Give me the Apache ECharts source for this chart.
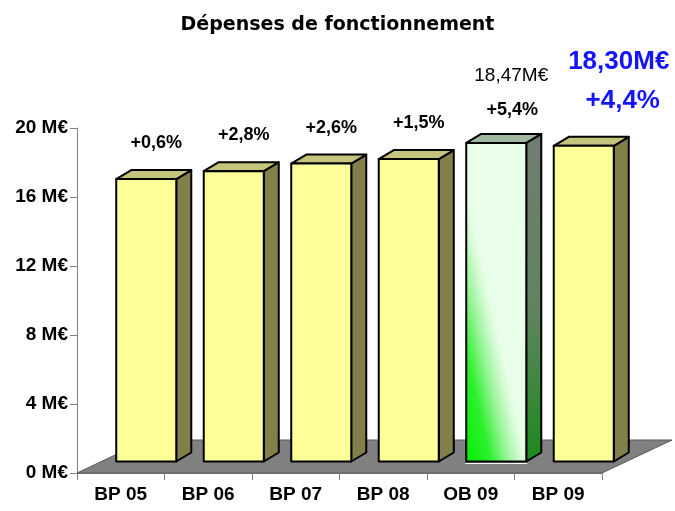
<!DOCTYPE html>
<html>
<head>
<meta charset="utf-8">
<script src="https://cdn.jsdelivr.net/npm/echarts@6/dist/echarts.min.js"></script>
<style>html,body{margin:0;padding:0;background:#fff;}#c{width:675px;height:511px;}</style>
</head>
<body>
<div id="c"></div>
<script>
// ---- data ----
const categories = ['BP 05', 'BP 06', 'BP 07', 'BP 08', 'OB 09', 'BP 09'];
const values = [16.37, 16.83, 17.27, 17.53, 18.47, 18.30];
const growthLabels = ['+0,6%', '+2,8%', '+2,6%', '+1,5%', '+5,4%', '+4,4%'];
const amountLabels = ['', '', '', '', '18,47M€', '18,30M€'];
const yTicks = [0, 4, 8, 12, 16, 20];
const titleText = 'Dépenses de fonctionnement';

// ---- styling constants ----
const FONT = '"Liberation Sans", Arial, sans-serif';
const SHIFT_X = 25.5, SHIFT_Y = -11.5;   // bars sit inside the floor depth
const DEPTH_X = 15, DEPTH_Y = -9;        // bar depth
const FLOOR_X = 70, FLOOR_Y = -33;       // floor depth
const BAR_FRAC = 0.686;

const chart = echarts.init(document.getElementById('c'), null, {renderer: 'canvas'});

function barItem(params, api) {
  const i = api.value(0);
  const v = api.value(1);
  const base = api.coord([i, 0]);
  const top = api.coord([i, v]);
  const catW = api.size([1, 0])[0];
  const bw = catW * BAR_FRAC;
  const cx = base[0] + SHIFT_X;
  const x0 = cx - bw / 2, x1 = cx + bw / 2;
  const yb = base[1] + SHIFT_Y, yt = top[1] + SHIFT_Y;
  const special = i === 4;
  let frontFill = '#ffff99';
  if (special) {
    frontFill = new echarts.graphic.LinearGradient(x0, yb, x0 + bw * 0.97, yb - bw * 0.22, [
      {offset: 0, color: '#00f000'},
      {offset: 0.4, color: '#2ef02e'},
      {offset: 0.7, color: '#9ff59f'},
      {offset: 0.9, color: '#d6fbd6'},
      {offset: 1, color: '#e9fee9'}], true);
  }
  const topFill = special ? '#9fb89f' : '#c4c47c';
  const sideFill = special ? new echarts.graphic.LinearGradient(0, 0, 0, 1, [
      {offset: 0, color: '#737d73'},
      {offset: 0.55, color: '#5f845f'},
      {offset: 1, color: '#1c8a1c'}]) : '#808048';
  const line = {stroke: '#000', lineWidth: 2, lineJoin: 'round'};
  const children = [
    {type: 'polygon', shape: {points: [[x1, yt], [x1 + DEPTH_X, yt + DEPTH_Y], [x1 + DEPTH_X, yb + DEPTH_Y], [x1, yb]]},
     style: Object.assign({fill: sideFill}, line)},
    {type: 'polygon', shape: {points: [[x0, yt], [x1, yt], [x1 + DEPTH_X, yt + DEPTH_Y], [x0 + DEPTH_X, yt + DEPTH_Y]]},
     style: Object.assign({fill: topFill}, line)},
    {type: 'rect', shape: {x: x0, y: yt, width: bw, height: yb - yt},
     style: Object.assign({fill: frontFill}, line)}
  ];
  if (special) {
    children.push({type: 'line', shape: {x1: x0 - 1, y1: yb + 2, x2: x1 + 1, y2: yb + 2},
      style: {stroke: '#f4fff4', lineWidth: 1}});
  }
  const topBack = yt + DEPTH_Y;
  const g = growthLabels[i];
  const a = amountLabels[i];
  if (i === 5) {
    children.push({type: 'text', style: {text: a, x: cx + 35, y: topBack - 75, align: 'center', verticalAlign: 'middle',
      font: 'bold 26px ' + FONT, fill: '#1414ff'}});
    children.push({type: 'text', style: {text: g, x: cx + 39, y: topBack - 36, align: 'center', verticalAlign: 'middle',
      font: 'bold 26px ' + FONT, fill: '#1414ff'}});
  } else if (i === 4) {
    children.push({type: 'text', style: {text: a, x: cx + 15, y: topBack - 58, align: 'center', verticalAlign: 'middle',
      font: '19px ' + FONT, fill: '#000'}});
    children.push({type: 'text', style: {text: g, x: cx + 16, y: topBack - 24, align: 'center', verticalAlign: 'middle',
      font: 'bold 18px ' + FONT, fill: '#000'}});
  } else {
    children.push({type: 'text', style: {text: g, x: cx + 10, y: topBack - 27, align: 'center', verticalAlign: 'middle',
      font: 'bold 18px ' + FONT, fill: '#000'}});
  }
  return {type: 'group', children: children};
}

function floorItem(params, api) {
  const catW = api.size([1, 0])[0];
  const first = api.coord([0, 0]);
  const last = api.coord([categories.length - 1, 0]);
  const l = first[0] - catW / 2, r = last[0] + catW / 2, y = first[1];
  return {type: 'polygon', shape: {points: [[l, y], [r, y], [r + FLOOR_X, y + FLOOR_Y], [l + FLOOR_X, y + FLOOR_Y]]},
    style: {fill: '#808080', stroke: '#5a5a5a', lineWidth: 1}};
}

const option = {
  backgroundColor: '#fff',
  animation: false,
  title: {
    text: titleText, left: 'center', top: 11,
    textStyle: {fontFamily: '"DejaVu Sans", sans-serif', fontWeight: 'bold', fontSize: 19, color: '#000'}
  },
  grid: {left: 77, right: 73, top: 128, bottom: 38, containLabel: false},
  xAxis: {
    type: 'category', data: categories,
    axisLine: {lineStyle: {color: '#808080', width: 1}},
    axisTick: {show: true, length: 7, lineStyle: {color: '#808080'}},
    axisLabel: {fontFamily: FONT, fontWeight: 'bold', fontSize: 19, color: '#000', margin: 12},
    splitLine: {show: false}
  },
  yAxis: {
    type: 'value', min: yTicks[0], max: yTicks[yTicks.length - 1], interval: yTicks[1] - yTicks[0],
    axisLine: {show: true, lineStyle: {color: '#808080', width: 1}},
    axisTick: {show: true, length: 7, lineStyle: {color: '#808080'}},
    axisLabel: {formatter: '{value} M€', fontFamily: FONT, fontWeight: 'bold', fontSize: 19, color: '#000', margin: 9},
    splitLine: {show: false}
  },
  series: [
    {type: 'custom', renderItem: floorItem, data: [[0]], encode: {x: 0}, clip: false, z: 1, silent: true},
    {type: 'custom', renderItem: barItem, data: values.map((v, i) => [i, v]), encode: {x: 0, y: 1}, clip: false, z: 2}
  ]
};
chart.setOption(option);
</script>
</body>
</html>
